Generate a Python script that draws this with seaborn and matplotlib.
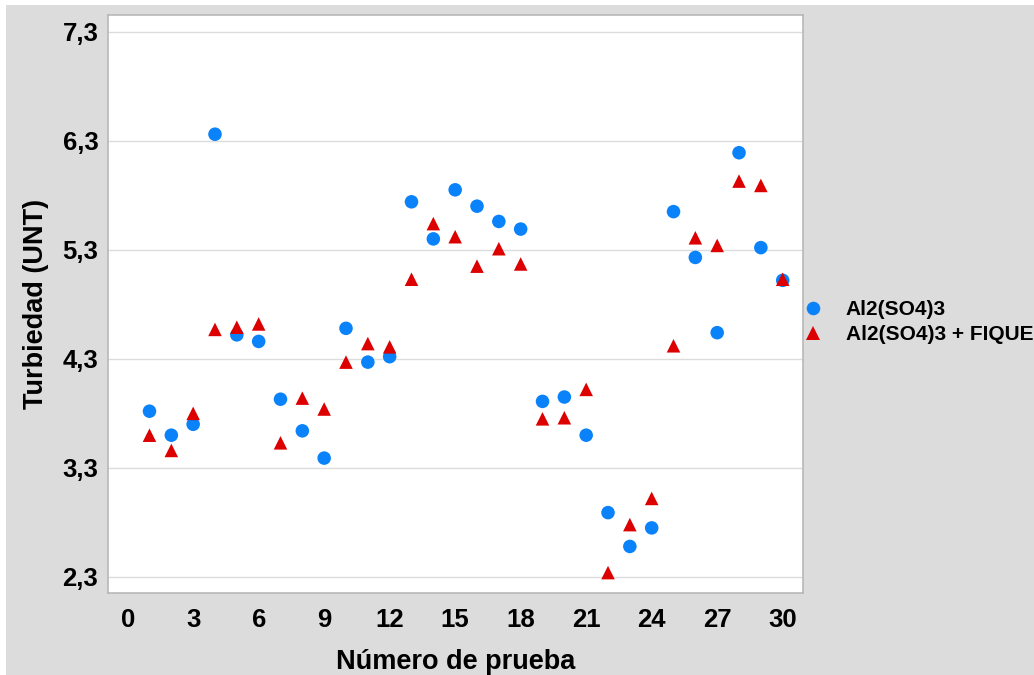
import numpy as np
import pandas as pd
import matplotlib
matplotlib.use("Agg")
import matplotlib.pyplot as plt
from matplotlib.patches import Rectangle
import seaborn as sns

# Turbidity per test run for each coagulant treatment
prueba = list(range(1, 31))
al2so4 = [3.82, 3.60, 3.70, 6.36, 4.52, 4.46, 3.93, 3.64, 3.39, 4.58,
          4.27, 4.32, 5.74, 5.40, 5.85, 5.70, 5.56, 5.49, 3.91, 3.95,
          3.60, 2.89, 2.58, 2.75, 5.65, 5.23, 4.54, 6.19, 5.32, 5.02]
al2so4_fique = [3.60, 3.46, 3.80, 4.57, 4.59, 4.62, 3.53, 3.94, 3.84, 4.27,
                4.44, 4.41, 5.03, 5.54, 5.42, 5.15, 5.31, 5.17, 3.75, 3.76,
                4.02, 2.34, 2.78, 3.02, 4.42, 5.41, 5.34, 5.93, 5.89, 5.03]
series_names = ["Al2(SO4)3", "Al2(SO4)3 + FIQUE"]
x_ticks = [0, 3, 6, 9, 12, 15, 18, 21, 24, 27, 30]
y_ticks = [2.3, 3.3, 4.3, 5.3, 6.3, 7.3]
y_tick_labels = ["2,3", "3,3", "4,3", "5,3", "6,3", "7,3"]

df = pd.DataFrame({
    "prueba": prueba * 2,
    "turbiedad": al2so4 + al2so4_fique,
    "serie": [series_names[0]] * len(al2so4) + [series_names[1]] * len(al2so4_fique),
})

sns.set_theme(style="white")
plt.rcParams["font.family"] = ["Liberation Sans", "DejaVu Sans"]
plt.rcParams["font.weight"] = "bold"
plt.rcParams["text.color"] = "black"
plt.rcParams["axes.labelcolor"] = "black"

W, H = 1034, 675
fig = plt.figure(figsize=(W / 100, H / 100), dpi=100, facecolor="white")
# grey panel behind the chart
fig.patches.append(Rectangle((6 / W, 0), 1, 1 - 5 / H, transform=fig.transFigure,
                             facecolor="#dcdcdc", edgecolor="none", zorder=-10))

ax = fig.add_axes([108 / W, (H - 593) / H, 695 / W, 578 / H])
ax.set_facecolor("white")

palette = {series_names[0]: "#0a82fa", series_names[1]: "#dc0000"}
markers = {series_names[0]: "o", series_names[1]: "^"}

sns.scatterplot(data=df, x="prueba", y="turbiedad", hue="serie", style="serie",
                palette=palette, markers=markers, s=95, linewidth=0, ax=ax, zorder=3)

ax.set_xlim(-0.9, 30.93)
ax.set_ylim(2.153, 7.453)
ax.set_xticks(x_ticks)
ax.set_xticklabels([str(t) for t in x_ticks])
ax.set_yticks(y_ticks)
ax.set_yticklabels(y_tick_labels)
ax.tick_params(axis="both", length=0, labelsize=18.5, labelcolor="black")
ax.tick_params(axis="y", pad=7)
ax.tick_params(axis="x", pad=11)
for lbl in ax.get_xticklabels() + ax.get_yticklabels():
    lbl.set_fontweight("bold")

ax.grid(axis="y", color="#dcdcdc", linewidth=1.0, zorder=0)
ax.set_axisbelow(True)
for sp in ax.spines.values():
    sp.set_color("#b8b8b8")
    sp.set_linewidth(1.2)

ax.set_xlabel("Número de prueba", fontsize=19.5, fontweight="bold", labelpad=12)
ax.set_ylabel("Turbiedad (UNT)", fontsize=19.5, fontweight="bold", labelpad=10)

handles, labels = ax.get_legend_handles_labels()
keep = [(h, l) for h, l in zip(handles, labels) if l in series_names]
leg = ax.legend([h for h, _ in keep], [l for _, l in keep],
                loc="center left", bbox_to_anchor=(1.0, 0.469), frameon=False,
                borderaxespad=0, borderpad=0, handlelength=0.95,
                handletextpad=1.1, labelspacing=0.3,
                prop={"size": 15, "weight": "bold"})

fig.savefig("out.png", dpi=100, facecolor=fig.get_facecolor())
